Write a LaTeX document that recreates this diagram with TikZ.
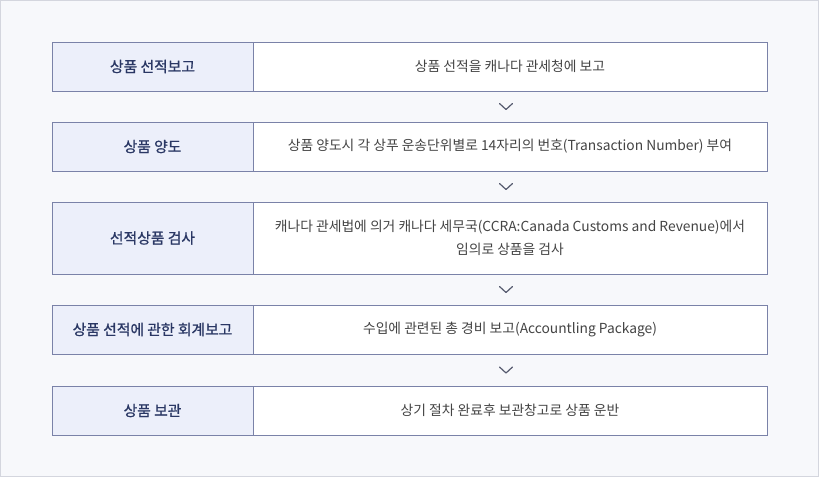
\documentclass[tikz,border=0pt]{standalone}
\usepackage{fontspec}
\usepackage{xcolor}
\setmainfont{Noto Sans CJK KR}
\newfontfamily\stagefont[FakeBold=0.9]{Noto Sans CJK KR}
\definecolor{FrameGray}{RGB}{212, 214, 222}
\definecolor{PageBack}{RGB}{247, 248, 251}
\definecolor{BoxLine}{RGB}{122, 130, 168}
\definecolor{StageFill}{RGB}{236, 239, 250}
\definecolor{StageText}{RGB}{42, 55, 100}
\definecolor{DetailText}{RGB}{68, 68, 68}
\definecolor{ChevronGray}{RGB}{85, 90, 110}

\begin{document}
\begin{tikzpicture}[x=1pt, y=-1pt,
    stage/.style={draw=BoxLine, fill=StageFill, text=StageText, line width=1pt, inner sep=0pt,
        minimum width=201pt, minimum height=49pt, font=\stagefont\fontsize{14.8}{18}\selectfont},
    detail/.style={draw=BoxLine, fill=white, text=DetailText, line width=1pt, inner sep=0pt,
        minimum width=514pt, minimum height=49pt, align=center, font=\fontsize{13.8}{22.5}\selectfont},
    chevron/.style={draw=ChevronGray, line width=1.2pt, line cap=round, line join=round}]
            % Frame
            \useasboundingbox (0,0) rectangle (819,477);
            \draw[FrameGray, fill=PageBack] (0.5,0.5) rectangle (818.5,476.5);

            % Step 1
            \node[stage] (stage1) at (152.5,66.5) {상품 선적보고};
            \node[detail] (detail1) at (510,66.5) {상품 선적을 캐나다 관세청에 보고};

            % Step 2
            \node[stage] (stage2) at (152.5,146.5) {상품 양도};
            \node[detail] (detail2) at (510,146.5) {상품 양도시 각 상푸 운송단위별로 14자리의 번호(Transaction Number) 부여};

            % Step 3
            \node[stage, minimum height=72pt] (stage3) at (152.5,238) {선적상품 검사};
            \node[detail, minimum height=72pt] (detail3) at (510,238) {캐나다 관세법에 의거 캐나다 세무국(CCRA:Canada Customs and Revenue)에서\\임의로 상품을 검사};

            % Step 4
            \node[stage] (stage4) at (152.5,329.5) {상품 선적에 관한 회계보고};
            \node[detail] (detail4) at (510,329.5) {수입에 관련된 총 경비 보고(Accountling Package)};

            % Step 5
            \node[stage] (stage5) at (152.5,410.5) {상품 보관};
            \node[detail] (detail5) at (510,410.5) {상기 절차 완료후 보관창고로 상품 운반};

            % Chevrons
            \foreach \y in {106.5,186.5,289.5,370} {
                \draw[chevron] (499.5,\y-3) -- (506,\y+3) -- (512.5,\y-3);
            }
\end{tikzpicture}
\end{document}
